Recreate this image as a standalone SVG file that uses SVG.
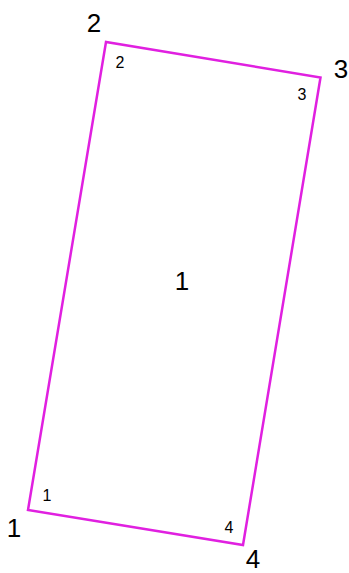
<svg xmlns="http://www.w3.org/2000/svg" width="349" height="573" viewBox="0 0 349 573">
<style>
.big{font-family:"Liberation Sans",Arial,sans-serif;font-size:26px;fill:#000;text-anchor:middle}
.small{font-family:"Liberation Sans",Arial,sans-serif;font-size:16px;fill:#000;text-anchor:middle}
.edge{fill:none;stroke:#e020e0;stroke-width:2.5;stroke-linejoin:miter}
</style>
<rect width="349" height="573" fill="#fff"/>
<g id="connectors">
<polygon class="edge" points="28,510 106,42 320.5,77.5 243,545"/>
</g>
<g id="node-face"><text class="big" x="182" y="290">1</text></g>
<g id="node-v1"><text class="big" x="14" y="537">1</text><text class="small" x="47" y="501">1</text></g>
<g id="node-v2"><text class="big" x="94" y="32">2</text><text class="small" x="120" y="68">2</text></g>
<g id="node-v3"><text class="big" x="341" y="78">3</text><text class="small" x="302" y="100">3</text></g>
<g id="node-v4"><text class="big" x="253" y="568">4</text><text class="small" x="229" y="533">4</text></g>
</svg>
